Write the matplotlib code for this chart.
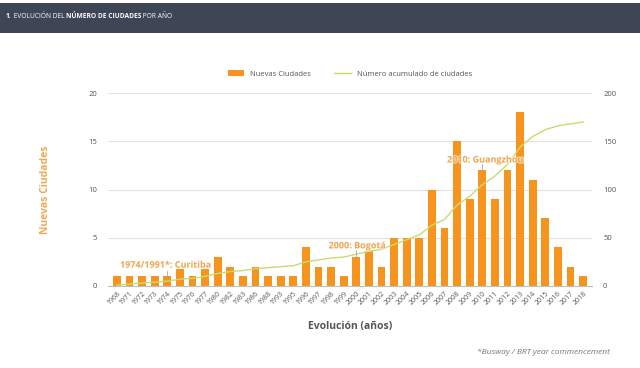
import numpy as np
import matplotlib.pyplot as plt
import matplotlib.patheffects as pe
from matplotlib.patches import Rectangle

plt.rcParams['font.family'] = ['Open Sans', 'DejaVu Sans']

years = ['1968', '1971', '1972', '1973', '1974', '1975', '1976', '1977', '1980', '1982',
         '1983', '1986', '1988', '1993', '1995', '1996', '1997', '1998', '1999', '2000',
         '2001', '2002', '2003', '2004', '2005', '2006', '2007', '2008', '2009', '2010',
         '2011', '2012', '2013', '2014', '2015', '2016', '2017', '2018']
nuevas = [1, 1, 1, 1, 1, 1.8, 1, 1.8, 3, 2,
          1, 2, 1, 1, 1, 4, 2, 2, 1, 3,
          3.6, 2, 5, 5, 5, 10, 6, 15, 9, 12,
          9, 12, 18, 11, 7, 4, 2, 1]
acumulado = [1, 2, 3, 4, 5, 7, 8, 10, 13, 15,
             16, 18, 19, 20, 21, 25, 27, 29, 30, 33,
             36, 38, 43, 48, 53, 63, 69, 84, 93, 105,
             114, 126, 144, 155, 162, 166, 168, 170]

ORANGE = '#f7941d'
LINE = '#c8dc6e'
ANNOT = '#eeaa55'
GREY = '#555555'

fig = plt.figure(figsize=(6.4, 3.68), dpi=100)

# header band
fig.patches.append(Rectangle((0, 1 - 33 / 368), 1, 30 / 368, transform=fig.transFigure,
                             facecolor='#3e4656', edgecolor='none'))
parts = [('1.', 'bold'), (' EVOLUCIÓN DEL ', 'normal'), ('NÚMERO DE CIUDADES', 'bold'),
         (' POR AÑO', 'normal')]
prev = fig.text(6 / 640, 1 - 17 / 368, parts[0][0], color='white', fontsize=4.8,
                fontweight=parts[0][1], va='center')
for txt, w in parts[1:]:
    prev = fig.add_artist(plt.Annotation(txt, xy=(1, 0.5), xycoords=prev, va='center',
                                         color='white', fontsize=4.8, fontweight=w))

ax = fig.add_axes([108 / 640, 1 - 286 / 368, 484 / 640, 193 / 368])
x = np.arange(len(years))
ax.bar(x, nuevas, width=0.62, color=ORANGE, label='Nuevas Ciudades', zorder=2)
ax.set_ylim(0, 20)
ax.set_xlim(-0.7, len(years) - 0.3)
ax.set_yticks([0, 5, 10, 15, 20])
ax.grid(axis='y', color='#e3e3e3', linewidth=0.8, zorder=0)
for s in ['top', 'right', 'left']:
    ax.spines[s].set_visible(False)
ax.spines['bottom'].set_color('#b8c0d4')
ax.spines['bottom'].set_linewidth(0.8)
ax.tick_params(axis='y', length=0, labelsize=5.5, labelcolor=GREY, pad=8)
ax.tick_params(axis='x', length=0, labelsize=5, labelcolor=GREY, pad=3)
ax.set_xticks(x)
ax.set_xticklabels(years, rotation=45, ha='right', rotation_mode='anchor')
ax.set_xlabel('Evolución (años)', fontsize=7.5, fontweight='bold', color=GREY, labelpad=10)
ax.set_ylabel('Nuevas Ciudades', fontsize=7.5, fontweight='bold', color=ANNOT, labelpad=27)

ax2 = ax.twinx()
ax2.plot(x, acumulado, color=LINE, linewidth=1, label='Número acumulado de ciudades', zorder=3)
ax2.set_ylim(0, 200)
ax2.set_yticks([0, 50, 100, 150, 200])
for s in ['top', 'right', 'left', 'bottom']:
    ax2.spines[s].set_visible(False)
ax2.tick_params(axis='y', length=0, labelsize=5.5, labelcolor=GREY, pad=8)

# annotations (drawn on the top axes so they sit above the bars)
halo = [pe.withStroke(linewidth=1.5, foreground='white', alpha=0.6)]
notes = [(4, 1.05, 1.6, 0.25, 1.9, '1974/1991*: Curitiba'),
         (19, 3.05, 3.7, 16.8, 3.9, '2000: Bogotá'),
         (29, 12.05, 12.6, 26.2, 12.8, '2010: Guangzhou')]
for bx, y0, y1, tx, ty, label in notes:
    ax2.plot([bx, bx], [y0, y1], color='#8fb0d0', linewidth=0.6, transform=ax.transData, zorder=4)
    ax2.text(tx, ty, label, color=ANNOT, fontsize=6.5, fontweight='bold', transform=ax.transData,
             zorder=5, path_effects=halo)

h1, l1 = ax.get_legend_handles_labels()
h2, l2 = ax2.get_legend_handles_labels()
fig.legend(h1 + h2, l1 + l2, loc='center', bbox_to_anchor=(350 / 640, 1 - 74 / 368), ncol=2,
           frameon=False, fontsize=5.5, handlelength=2.2, handleheight=0.9, columnspacing=3,
           labelcolor=GREY)

fig.text(610 / 640, 1 - 352 / 368, '*Busway / BRT year commencement', color='#777777',
         fontsize=6, style='italic', ha='right', va='center')

fig.savefig('out.png', dpi=100)
